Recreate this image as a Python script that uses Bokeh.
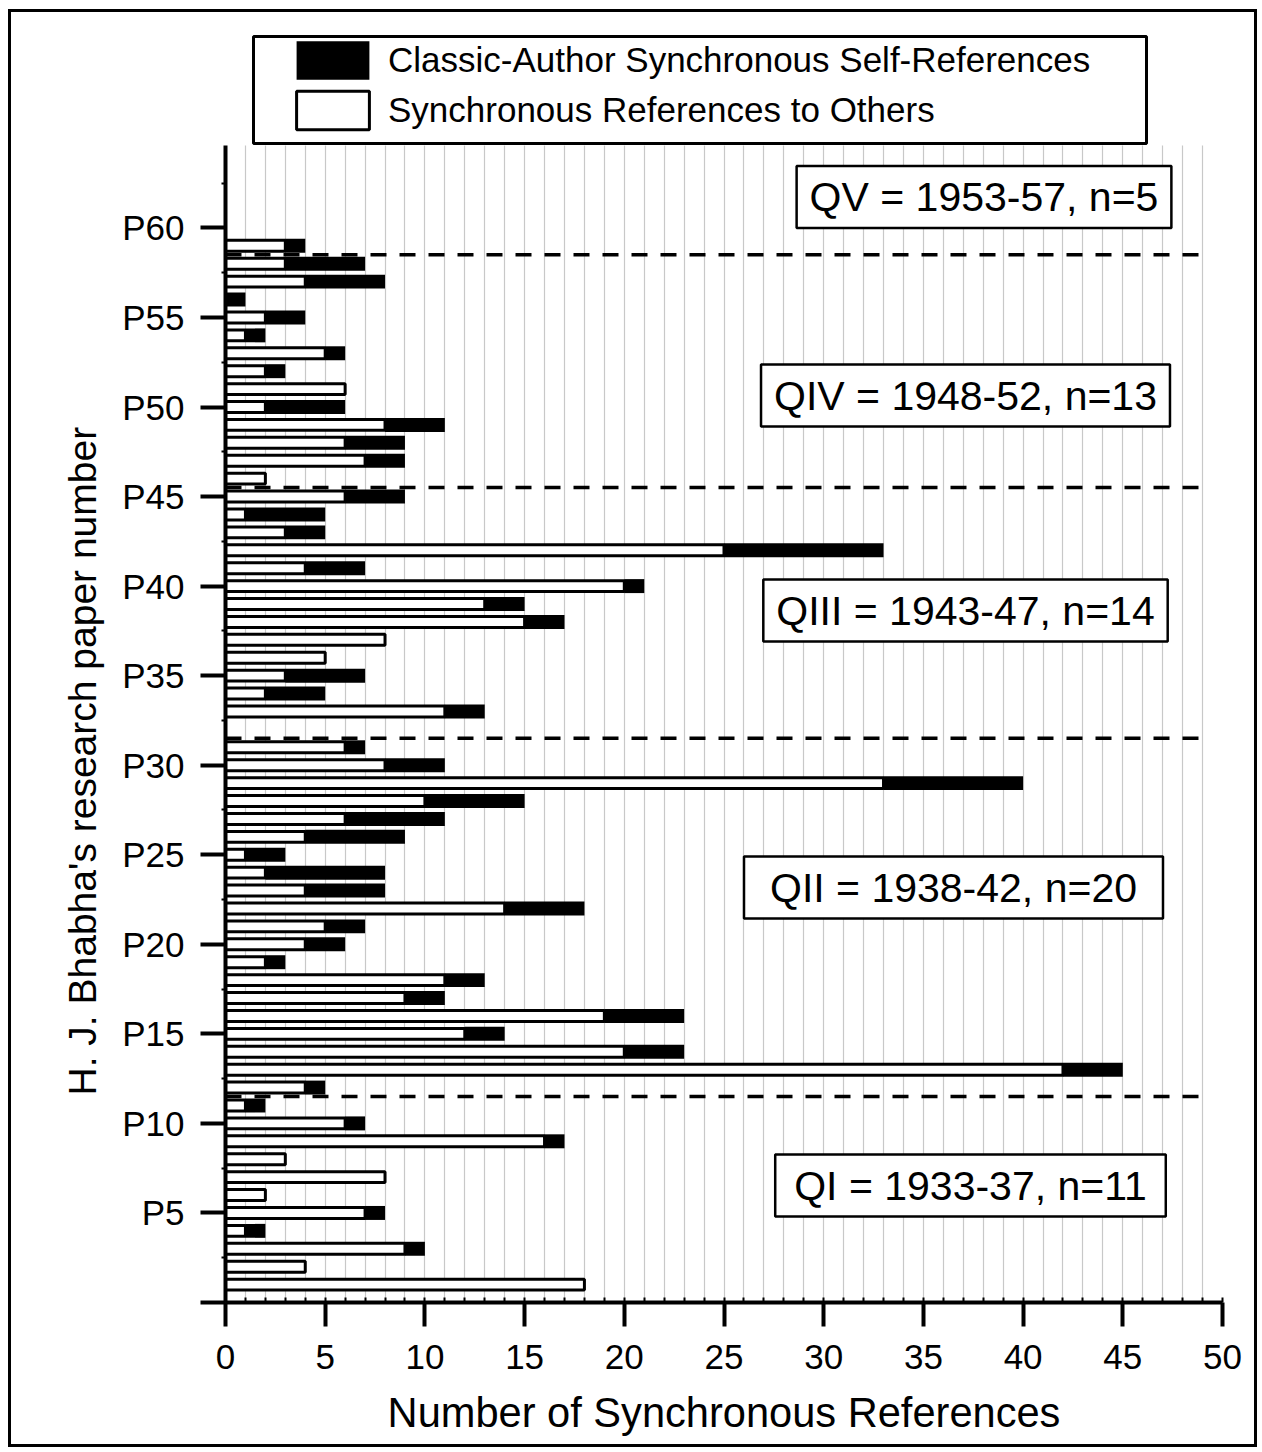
import numpy as np
from bokeh.plotting import figure
from bokeh.models import (Range1d, FixedTicker, Legend, LegendItem, Label,
                          BoxAnnotation, ColumnDataSource, Grid, Title)
from bokeh.embed import file_html
from bokeh.resources import INLINE

# ---------------- data ----------------
papers = list(range(1, 60))  # P1 .. P59
refs_to_others = [18, 4, 9, 1, 7, 2, 8, 3, 16, 6, 1,
                  4, 42, 20, 12, 19, 9, 11, 2, 4, 5, 14, 4, 2, 1, 4, 6, 10, 33, 8, 6,
                  0, 11, 2, 3, 5, 8, 15, 13, 20, 4, 25, 3, 1, 6,
                  2, 7, 6, 8, 2, 6, 2, 5, 1, 2, 0, 4, 3,
                  3]
self_refs = [0, 0, 1, 1, 1, 0, 0, 0, 1, 1, 1,
             1, 3, 3, 2, 4, 2, 2, 1, 2, 2, 4, 4, 6, 2, 5, 5, 5, 7, 3, 1,
             0, 2, 3, 4, 0, 0, 2, 2, 1, 3, 8, 2, 4, 3,
             0, 2, 3, 3, 4, 0, 1, 1, 1, 2, 1, 4, 4,
             1]
quarter_names = ["QI", "QII", "QIII", "QIV", "QV"]
quarter_years = ["1933-37", "1938-42", "1943-47", "1948-52", "1953-57"]
quarter_n = [11, 20, 14, 13, 5]

xtick_values = [0, 5, 10, 15, 20, 25, 30, 35, 40, 45, 50]
ytick_values = [0, 5, 10, 15, 20, 25, 30, 35, 40, 45, 50, 55, 60]
ytick_labels = ["", "P5", "P10", "P15", "P20", "P25", "P30", "P35", "P40",
                "P45", "P50", "P55", "P60"]

x_title = "Number of Synchronous References"
y_title = "H. J. Bhabha's research paper number"
legend_labels = ["Classic-Author Synchronous Self-References",
                 "Synchronous References to Others"]

# ---------------- layout ----------------
OX, OY = 8, 9            # canvas offset on the page
W, H = 1249, 1438
ML, MR, MT, MB = 217, 35, 0, 145
X_MAX = 50
FW = W - ML - MR
FH = H - MT - MB
XS = FW / X_MAX
YS = 17.91
Y_TOP = FH / YS          # frame reaches up to the canvas top
Y_AXIS_TOP = 64.6        # visible extent of the y axis
FRAME_BOTTOM_PAGE = OY + H - MB


def px_x(page_x):
    return (page_x - OX - ML) / XS


def px_y(page_y):
    return (FRAME_BOTTOM_PAGE - page_y) / YS


FONT = "Liberation Sans"

p = figure(width=W, height=H, x_range=Range1d(0, X_MAX), y_range=Range1d(0, Y_TOP),
           output_backend="svg", toolbar_location=None,
           min_border_left=ML, min_border_right=MR,
           min_border_top=MT, min_border_bottom=MB)
p.outline_line_color = None
p.background_fill_color = None
p.border_fill_color = None
p.styles = {"margin-left": f"{OX}px", "margin-top": f"{OY}px",
            "background-color": "white",
            "box-shadow": "inset 0 0 0 3px black"}

totals = [o + s for o, s in zip(refs_to_others, self_refs)]
src = ColumnDataSource(dict(paper=papers, others=refs_to_others, total=totals))

# grid (vertical light lines, one per unit)
p.ygrid.visible = False
grid_ticks = list(range(1, X_MAX))
if "cross_bounds" in Grid.properties():
    p.xgrid.ticker = FixedTicker(ticks=grid_ticks)
    p.xgrid.cross_bounds = (0, Y_AXIS_TOP)
    p.xgrid.grid_line_color = "#c8c8c8"
    p.xgrid.grid_line_width = 1.2
else:
    p.xgrid.visible = False
    p.segment(x0=grid_ticks, x1=grid_ticks, y0=0, y1=Y_AXIS_TOP,
              line_color="#c8c8c8", line_width=1.2, level="underlay")

# quarter boundaries
bounds = list(np.cumsum(quarter_n)[:-1] + 0.5)
p.segment(x0=0, x1=49.1, y0=bounds, y1=bounds, line_dash="16 13",
          line_width=3.5, line_color="black")

black = p.hbar(y="paper", left="others", right="total", height=0.78,
               fill_color="black", line_color=None, source=src)
white = p.hbar(y="paper", left=0, right="others", height=0.61,
               fill_color="white", line_color="black", line_width=3, source=src)

# x axis
xa = p.xaxis[0]
xa.ticker = FixedTicker(ticks=xtick_values, minor_ticks=list(range(0, X_MAX + 1)))
xa.axis_label = x_title
xa.axis_line_width = 4
xa.major_tick_line_width = 4
xa.major_tick_out = 24
xa.major_tick_in = 0
xa.minor_tick_line_width = 2
xa.minor_tick_in = 5
xa.minor_tick_out = 0
xa.major_label_text_font = FONT
xa.major_label_text_font_size = "35px"
xa.major_label_text_color = "black"
xa.major_label_standoff = 18
xa.axis_label_text_font = FONT
xa.axis_label_text_font_size = "41.6px"
xa.axis_label_text_font_style = "normal"
xa.axis_label_text_color = "black"
xa.axis_label_standoff = 17

# y axis
ya = p.yaxis[0]
ya.bounds = (0, Y_AXIS_TOP)
ya.ticker = FixedTicker(ticks=ytick_values,
                        minor_ticks=[v + 2.5 for v in ytick_values])
ya.major_label_overrides = {v: lab for v, lab in zip(ytick_values, ytick_labels)}
ya.axis_line_width = 4
ya.major_tick_line_width = 4
ya.major_tick_out = 25
ya.major_tick_in = 0
ya.minor_tick_line_width = 2
ya.minor_tick_out = 4
ya.minor_tick_in = 0
ya.major_label_text_font = FONT
ya.major_label_text_font_size = "35px"
ya.major_label_text_color = "black"
ya.major_label_standoff = 16

# y title placed in the left panel, aligned along the axis extent
p.add_layout(Title(text=y_title, align="left", offset=FRAME_BOTTOM_PAGE - 1095,
                   vertical_align="middle", standoff=30,
                   text_font=FONT, text_font_size="39px", text_font_style="normal",
                   text_color="black"), "left")

# legend box + legend
p.add_layout(BoxAnnotation(left=px_x(253), right=px_x(1146), top=px_y(36), bottom=px_y(143),
                           fill_color="white", fill_alpha=1,
                           line_color="black", line_alpha=1, line_width=3))
GW, GH = 73 / 0.8, 38 / 0.8   # legend swatches are drawn with a 10% inset
legend = Legend(items=[LegendItem(label=legend_labels[0], renderers=[black]),
                       LegendItem(label=legend_labels[1], renderers=[white])],
                location=(round(296 - 0.1 * GW - 225), round(FRAME_BOTTOM_PAGE - (129 + 0.1 * GH))),
                glyph_width=round(GW), glyph_height=round(GH), label_standoff=10,
                spacing=2, padding=0, margin=0,
                border_line_color=None, background_fill_alpha=0,
                label_text_font=FONT, label_text_font_size="35px",
                label_text_color="black", label_height=round(GH))
p.add_layout(legend)

# quarter labels
label_centers_x = [970, 953, 965, 965, 983.5]
label_centers_y = [1185, 887, 610, 395, 196.5]
label_pad_x = [19, 26, 13, 13, 13]
for name, yrs, n, cx, cy, pad in zip(quarter_names, quarter_years, quarter_n,
                                     label_centers_x, label_centers_y, label_pad_x):
    p.add_layout(Label(x=px_x(cx), y=px_y(cy), text=f"{name} = {yrs}, n={n}",
                       text_align="center", text_baseline="middle",
                       text_font=FONT, text_font_size="41px", text_color="black",
                       background_fill_color="white",
                       border_line_color="black", border_line_width=2.5,
                       padding=dict(x=pad, y=8)))

open("out.html", "w").write(file_html(p, INLINE))
